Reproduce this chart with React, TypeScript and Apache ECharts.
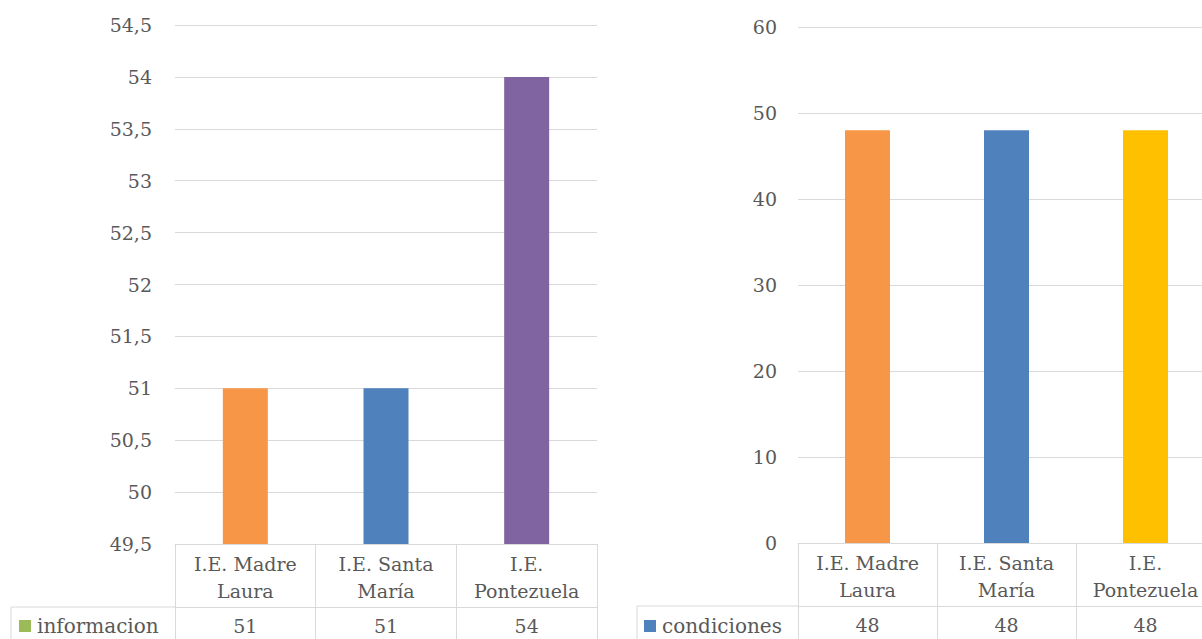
import React, { useEffect, useRef } from "react";
import * as echarts from "echarts";

// Schools shared by both panels
const schools = ["I.E. Madre\nLaura", "I.E. Santa\nMaría", "I.E.\nPontezuela"];

// Left panel: "informacion"
const infoName = "informacion";
const infoValues = [51, 51, 54];
const infoColors = ["#F79646", "#4F81BD", "#8064A2"];
const infoSeriesColor = "#9BBB59";

// Right panel: "condiciones"
const condName = "condiciones";
const condValues = [48, 48, 48];
const condColors = ["#F79646", "#4F81BD", "#FFC000"];
const condSeriesColor = "#4F81BD";

const FONT = "DejaVu Serif";
const TEXT = "#595959";
const GRID_LINE = "#D9D9D9";
const FS = 19;

// Panel geometry (the right panel runs past the visible edge)
const L = { left: 175, top: 25, width: 422, height: 519, cellLeft: 11 };
const R = { left: 798, top: 27, width: 417, height: 516, cellLeft: 637 };
const ROW1 = 63; // height of the category row of the data table
const VIEW_W = 1202;
const VIEW_H = 639;
const CANVAS_W = 1230;

const commaFmt = (v: number) => String(v).replace(".", ",");

function tableBorders(p: typeof L) {
  const bottom = p.top + p.height;
  const rowY = bottom + ROW1;
  return [
    {
      type: "line",
      shape: { x1: p.cellLeft, y1: rowY, x2: p.left, y2: rowY },
      style: { stroke: GRID_LINE, lineWidth: 1 },
    },
    {
      type: "line",
      shape: { x1: p.cellLeft, y1: rowY, x2: p.cellLeft, y2: VIEW_H + 2 },
      style: { stroke: GRID_LINE, lineWidth: 1 },
    },
  ];
}

export default function App() {
  const ref = useRef<HTMLDivElement>(null);

  useEffect(() => {
    if (!ref.current) return;
    const chart = echarts.init(ref.current, undefined, { renderer: "svg" });

    const catAxis = (gridIndex: number, p: typeof L) => ({
      type: "category",
      gridIndex,
      data: schools,
      position: "bottom",
      axisLine: { show: true, lineStyle: { color: GRID_LINE, width: 1 } },
      axisTick: {
        show: true,
        alignWithLabel: false,
        interval: 0,
        length: VIEW_H - (p.top + p.height) + 2,
        lineStyle: { color: GRID_LINE, width: 1 },
      },
      axisLabel: {
        interval: 0,
        margin: 6,
        fontFamily: FONT,
        fontSize: FS,
        lineHeight: 27,
        color: TEXT,
      },
    });

    const valAxis = (gridIndex: number, values: number[]) => ({
      type: "category",
      gridIndex,
      data: values.map(String),
      position: "bottom",
      offset: ROW1,
      axisLine: { show: true, lineStyle: { color: GRID_LINE, width: 1 } },
      axisTick: { show: false },
      axisLabel: {
        interval: 0,
        margin: 9,
        fontFamily: FONT,
        fontSize: FS,
        color: TEXT,
      },
    });

    const yAxis = (gridIndex: number, min: number, max: number, interval: number, margin: number) => ({
      type: "value",
      gridIndex,
      min,
      max,
      interval,
      axisLine: { show: false },
      axisTick: { show: false },
      splitLine: { show: true, lineStyle: { color: GRID_LINE, width: 1 } },
      axisLabel: {
        margin,
        fontFamily: FONT,
        fontSize: FS,
        color: TEXT,
        formatter: commaFmt,
      },
    });

    const legend = (name: string, left: number, top: number) => ({
      data: [name],
      left,
      top,
      icon: "rect",
      itemWidth: 12,
      itemHeight: 12,
      itemGap: 5,
      padding: 0,
      selectedMode: false,
      textStyle: { fontFamily: FONT, fontSize: 20, color: TEXT, padding: [0, 0, 0, 1] },
    });

    chart.setOption({
      animation: false,
      backgroundColor: "#FFFFFF",
      grid: [
        { left: L.left, top: L.top, width: L.width, height: L.height, containLabel: false },
        { left: R.left, top: R.top, width: R.width, height: R.height, containLabel: false },
      ],
      xAxis: [catAxis(0, L), valAxis(0, infoValues), catAxis(1, R), valAxis(1, condValues)],
      yAxis: [yAxis(0, 49.5, 54.5, 0.5, 23), yAxis(1, 0, 60, 10, 21)],
      legend: [legend(infoName, 19, 616), legend(condName, 644, 616)],
      series: [
        {
          name: infoName,
          type: "bar",
          xAxisIndex: 0,
          yAxisIndex: 0,
          barWidth: 45,
          itemStyle: { color: infoSeriesColor },
          data: infoValues.map((v, i) => ({ value: v, itemStyle: { color: infoColors[i] } })),
        },
        {
          name: condName,
          type: "bar",
          xAxisIndex: 2,
          yAxisIndex: 1,
          barWidth: 45,
          itemStyle: { color: condSeriesColor },
          data: condValues.map((v, i) => ({ value: v, itemStyle: { color: condColors[i] } })),
        },
      ],
      graphic: [...tableBorders(L), ...tableBorders(R)],
    });

    return () => chart.dispose();
  }, []);

  return (
    <div
      style={{
        position: "fixed",
        left: 0,
        top: 0,
        width: VIEW_W,
        height: VIEW_H,
        overflow: "hidden",
        background: "#fff",
      }}
    >
      <div ref={ref} style={{ width: CANVAS_W, height: VIEW_H }} />
    </div>
  );
}
